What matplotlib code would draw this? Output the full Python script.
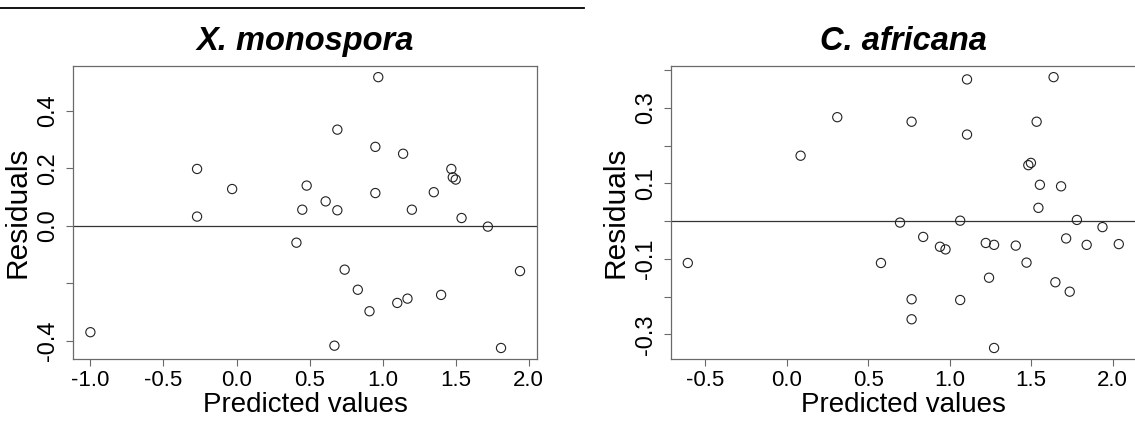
"""Residuals vs predicted values for two species, R base-graphics look."""
import matplotlib

matplotlib.use("Agg")
import matplotlib.pyplot as plt
from matplotlib.lines import Line2D

# X. monospora
xm_pred = [-1.00, -0.27, -0.27, -0.03, 0.41, 0.45, 0.48, 0.61, 0.69, 0.69,
           0.67, 0.74, 0.83, 0.91, 0.95, 0.95, 0.97, 1.10, 1.14, 1.17,
           1.20, 1.35, 1.40, 1.47, 1.48, 1.50, 1.54, 1.72, 1.81, 1.94]
xm_resid = [-0.371, 0.198, 0.032, 0.128, -0.059, 0.056, 0.140, 0.085, 0.335, 0.054,
            -0.418, -0.153, -0.223, -0.298, 0.275, 0.114, 0.518, -0.269, 0.251, -0.254,
            0.056, 0.117, -0.241, 0.198, 0.169, 0.161, 0.027, -0.003, -0.426, -0.158]
xm_xticks = [-1.0, -0.5, 0.0, 0.5, 1.0, 1.5, 2.0]
xm_yticks = [-0.4, -0.2, 0.0, 0.2, 0.4]
xm_ylabels = ["-0.4", "", "0.0", "0.2", "0.4"]

# C. africana
ca_pred = [-0.607, 0.085, 0.310, 0.578, 0.695, 0.766, 0.766, 0.766, 0.837, 0.940,
           0.974, 1.064, 1.064, 1.106, 1.106, 1.221, 1.241, 1.272, 1.272, 1.405,
           1.471, 1.482, 1.498, 1.533, 1.544, 1.553, 1.637, 1.648, 1.683, 1.714,
           1.736, 1.780, 1.840, 1.937, 2.037]
ca_resid = [-0.111, 0.173, 0.275, -0.111, -0.004, 0.263, -0.207, -0.260, -0.042, -0.068,
            -0.075, 0.001, -0.209, 0.375, 0.229, -0.058, -0.150, -0.063, -0.336, -0.065,
            -0.110, 0.148, 0.154, 0.263, 0.035, 0.096, 0.381, -0.162, 0.092, -0.046,
            -0.187, 0.003, -0.063, -0.016, -0.061]
ca_xticks = [-0.5, 0.0, 0.5, 1.0, 1.5, 2.0]
ca_yticks = [-0.3, -0.2, -0.1, 0.0, 0.1, 0.2, 0.3, 0.4]
ca_ylabels = ["-0.3", "", "-0.1", "", "0.1", "", "0.3", ""]

plt.rcParams["font.family"] = ["Liberation Sans", "DejaVu Sans"]

FRAME = "#6a6a6a"


def residual_panel(ax, pred, resid, title, xticks, yticks, ylabels):
    ax.scatter(pred, resid, s=44, facecolors="none", edgecolors="#222222",
               linewidths=0.8, zorder=3)
    ax.axhline(0.0, color="#333333", linewidth=0.9, zorder=2)
    ax.margins(x=0.04, y=0.04)

    ax.set_xticks(xticks)
    ax.set_xticklabels([f"{t:.1f}" for t in xticks])
    ax.set_yticks(yticks)
    ax.set_yticklabels(ylabels)
    plt.setp(ax.get_yticklabels(), rotation=90, va="center")

    ax.tick_params(direction="out", length=5, width=0.8, color=FRAME)
    ax.tick_params(axis="x", pad=3, labelsize=16)
    ax.tick_params(axis="y", pad=5, labelsize=17)
    for spine in ax.spines.values():
        spine.set_color(FRAME)
        spine.set_linewidth(0.9)

    ax.set_title(title, fontsize=23.5, fontweight="bold", style="italic", pad=12)
    ax.set_xlabel("Predicted values", fontsize=20, labelpad=1)
    ax.set_ylabel("Residuals", fontsize=21.5, labelpad=4)


fig = plt.figure(figsize=(11.35, 4.21), dpi=100)
ax_left = fig.add_axes([0.0645, 0.1477, 0.4088, 0.6948])
ax_right = fig.add_axes([0.5908, 0.1477, 0.4101, 0.6948])

residual_panel(ax_left, xm_pred, xm_resid, "X. monospora",
               xm_xticks, xm_yticks, xm_ylabels)
residual_panel(ax_right, ca_pred, ca_resid, "C. africana",
               ca_xticks, ca_yticks, ca_ylabels)

# rule line across the top left of the page
fig.add_artist(Line2D([0.0, 584 / 1135], [1 - 8 / 421, 1 - 8 / 421],
                      color="black", linewidth=1.3))

fig.savefig("out.png", dpi=100)
